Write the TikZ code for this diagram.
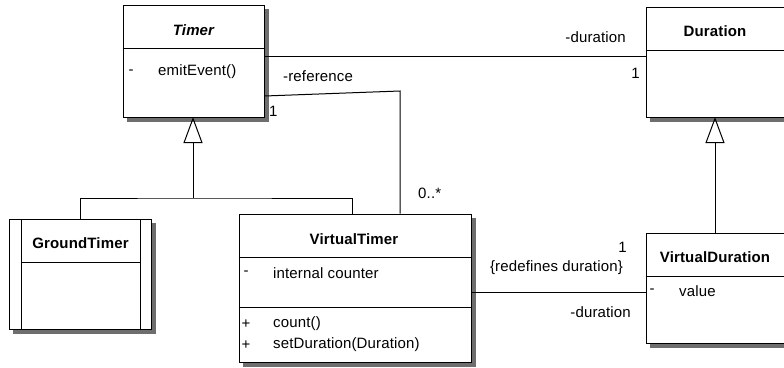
\documentclass[tikz,border=0pt]{standalone}
\usepackage{fontspec}
\setmainfont{Liberation Sans}[LetterSpace=1]
\usetikzlibrary{arrows.meta}
\definecolor{shadowgray}{RGB}{110,110,110}
\begin{document}
\begin{tikzpicture}[x=1pt,y=-1pt,
  every node/.style={font=\fontsize{15}{17}\selectfont},
  classbox/.style={draw, line width=1pt, fill=white, inner sep=0pt},
  shadowbox/.style={fill=shadowgray, draw=none},
  sep/.style={line width=1pt},
  conn/.style={line width=1pt},
  txt/.style={inner sep=0pt, anchor=west},
  ctxt/.style={inner sep=0pt, anchor=center},
  title/.style={inner sep=0pt, anchor=center, font=\fontsize{15}{17}\selectfont\bfseries},
  gen/.style={line width=1pt, -{Triangle[open, length=26pt, width=19pt, line width=1pt]}}
]
\useasboundingbox (0,0) rectangle (784,367);

% shadows, drawn first: rectangles offset 4 px right and down
\fill[shadowbox] (127,9) rectangle (268.5,121.5);
\fill[shadowbox] (13,223) rectangle (155.5,333.5);
\fill[shadowbox] (243,218) rectangle (475.5,366.5);
\fill[shadowbox] (650,11) rectangle (790,121.5);
\fill[shadowbox] (650,237) rectangle (790,347.5);

% Timer
\node[classbox, minimum width=141pt, minimum height=112pt] (timer) at (193.5,61) {};
\draw[sep] (timer.west |- 0,48) -- (timer.east |- 0,48);
\node[title, font=\fontsize{15}{17}\selectfont\bfseries\itshape] (timerT) at (193.5,30) {Timer};
\node[ctxt] (timerM) at (131,72) {-};
\node[txt] (timerE) at (158,72) {emitEvent()};

% GroundTimer
\node[classbox, minimum width=142pt, minimum height=110pt] (gt) at (80,274) {};
\draw[sep] (21,219) -- (21,329);
\draw[sep] (140,219) -- (140,329);
\draw[sep] (21,262) -- (140,262);
\node[title] (gtT) at (80.5,243) {GroundTimer};

% VirtualTimer
\node[classbox, minimum width=232pt, minimum height=148pt] (vt) at (355,288) {};
\draw[sep] (vt.west |- 0,257) -- (vt.east |- 0,257);
\draw[sep] (vt.west |- 0,307) -- (vt.east |- 0,307);
\node[title] (vtT) at (354,239) {VirtualTimer};
\node[ctxt] (vtM1) at (246,273) {-};
\node[txt] (vtA1) at (273,273) {internal counter};
\node[ctxt] (vtP1) at (246,324) {+};
\node[txt] (vtO1) at (273,324) {count()};
\node[ctxt] (vtP2) at (246,345) {+};
\node[txt] (vtO2) at (273,345) {setDuration(Duration)};

% Duration
\node[classbox, minimum width=140pt, minimum height=110pt] (dur) at (716,62) {};
\draw[sep] (dur.west |- 0,50) -- (dur.east |- 0,50);
\node[title] (durT) at (715,31) {Duration};

% VirtualDuration
\node[classbox, minimum width=140pt, minimum height=110pt] (vd) at (716,288) {};
\draw[sep] (vd.west |- 0,276) -- (vd.east |- 0,276);
\node[title] (vdT) at (715,257) {VirtualDuration};
\node[ctxt] (vdM) at (652,291) {-};
\node[txt] (vdA) at (679,291) {value};

% generalisations
\coordinate (j) at (193,198);
\coordinate (gtTop) at (80,219);
\coordinate (vtTop) at (352,214);
\draw[conn] (gtTop) |- (j) -| (vtTop);
\draw[gen] (j) -- (193,117);
\draw[gen] (vd.north -| 715,0) -- (715,117);

% associations
\draw[conn] (timer.east |- 0,56) -- (dur.west |- 0,56);
\coordinate (r) at (400,91);
\draw[conn] (timer.east |- 0,96) -- (r) -- (r |- vt.north);
\draw[conn] (vt.east |- 0,292) -- (vd.west |- 0,292);

% labels
\node[inner sep=0pt, anchor=east] (l1) at (626,37) {-duration};
\node[inner sep=0pt, anchor=east] (l2) at (640,73) {1};
\node[txt] (l3) at (283,76) {-reference};
\node[txt] (l4) at (269,111) {1};
\node[txt] (l5) at (418,193) {0..*};
\node[inner sep=0pt, anchor=east] (l6) at (627,247) {1};
\node[inner sep=0pt, anchor=east] (l7) at (623,268) {\{redefines duration\}};
\node[inner sep=0pt, anchor=east] (l8) at (631,312) {-duration};
\end{tikzpicture}
\end{document}
